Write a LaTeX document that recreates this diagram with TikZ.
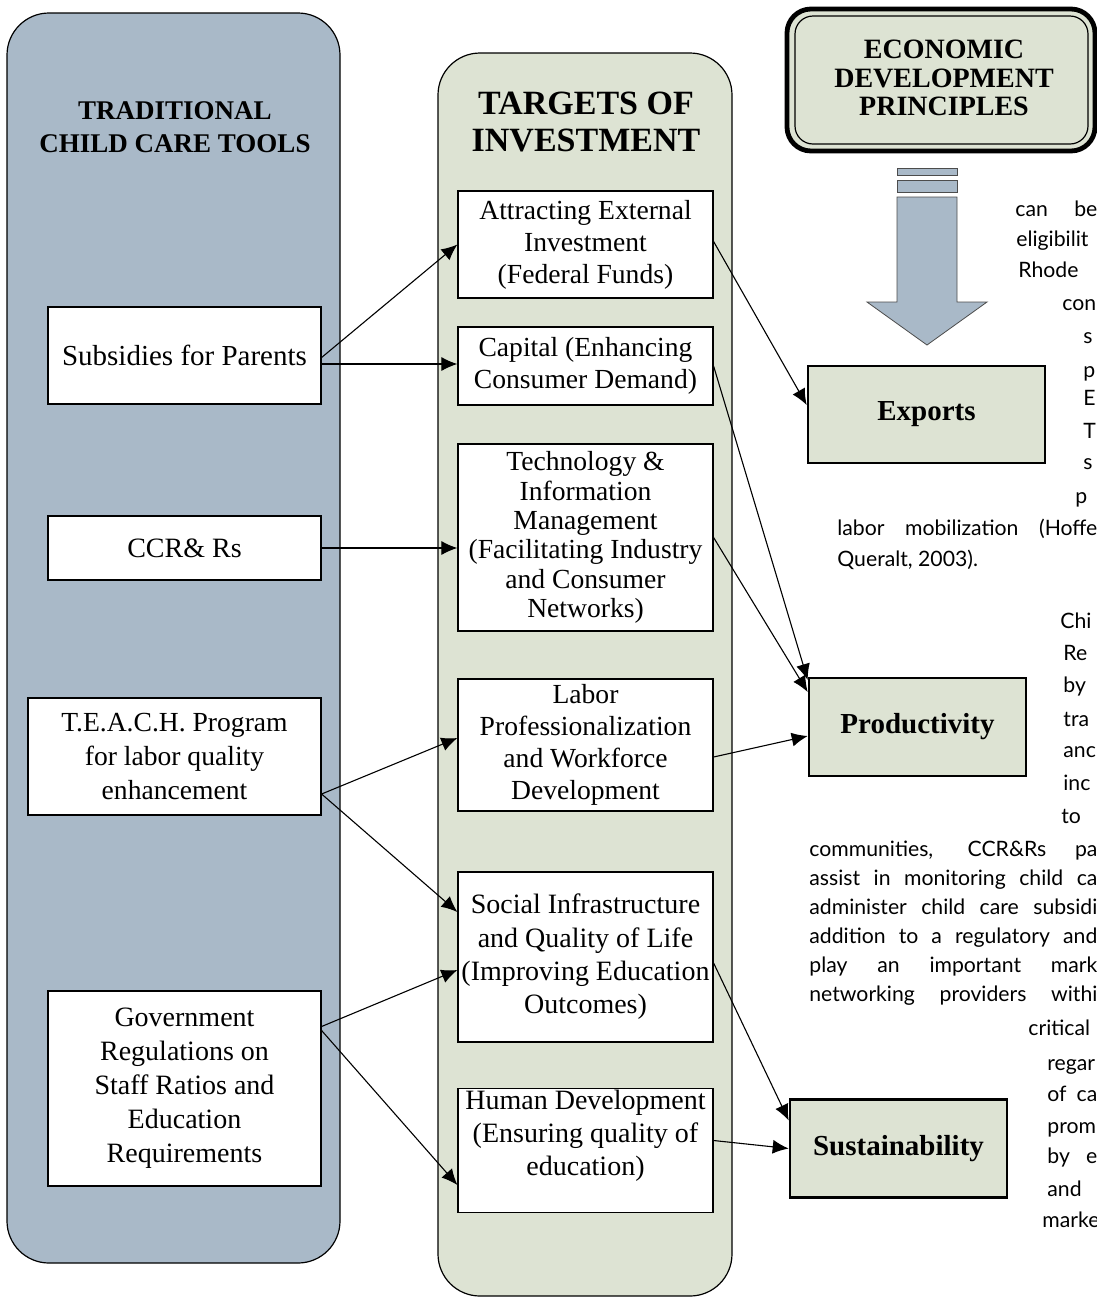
\documentclass[tikz,border=0pt]{standalone}
\usepackage{fontspec}
\setmainfont{Liberation Serif}
\setsansfont{Lato}
\usetikzlibrary{arrows.meta}
\definecolor{toolgrey}{RGB}{169,185,200}
\definecolor{sage}{RGB}{221,227,211}
\tikzset{
  panel/.style={draw=black, line width=0.6pt, rounded corners=21pt},
  tool/.style={draw=black, line width=0.6pt, fill=white, align=center, inner sep=1pt,
    font=\fontsize{14}{17}\selectfont},
  target/.style={tool, minimum width=127.5pt, font=\fontsize{13.8}{16}\selectfont},
  result/.style={draw=black, line width=1.3pt, fill=sage, minimum width=108.5pt, minimum height=49pt,
    font=\fontsize{14.5}{16}\selectfont\bfseries},
  heading/.style={align=center, font=\fontsize{13.5}{16.5}\selectfont\bfseries},
  link/.style={line width=0.55pt, -{Latex[length=8pt,width=7pt]}},
  page/.style={anchor=base west, inner sep=0pt, font=\sffamily\fontsize{10.6}{12}\selectfont}
}
\begin{document}
\begin{tikzpicture}[x=0.5pt, y=-0.5pt]
  \useasboundingbox (0,0) rectangle (1097,1298);
  % the two columns
  \draw [panel, fill=toolgrey] (7,13) rectangle (340,1263);
  \draw [panel, fill=sage] (438,53) rectangle (732,1296);
  \node [heading] (toolhead) at (175,127) {TRADITIONAL\\CHILD CARE TOOLS};
  \node [heading, font=\fontsize{17}{18.5}\selectfont\bfseries] (targethead) at (586,122) {TARGETS OF\\INVESTMENT};

  % principles box and block arrow
  \draw [line width=2.4pt, rounded corners=12pt, fill=sage] (787,9) rectangle (1095,151);
  \draw [line width=0.6pt, rounded corners=9pt] (795,16) rectangle (1088,144);
  \node [heading, font=\fontsize{14}{14.3}\selectfont\bfseries] (principles) at (944,78) {ECONOMIC\\DEVELOPMENT\\PRINCIPLES};
  \draw [fill=toolgrey, draw=black!70, line width=0.4pt] (897,168) rectangle (957,175);
  \draw [fill=toolgrey, draw=black!70, line width=0.4pt] (897,180) rectangle (957,192);
  \draw [fill=toolgrey, draw=black!70, line width=0.4pt]
    (897,197) -- (957,197) -- (957,302) -- (987,302) -- (927,345) -- (867,302) -- (897,302) -- cycle;

  % tools
  \node [tool, minimum width=136.5pt, minimum height=48.5pt, font=\fontsize{14.5}{17}\selectfont] (subsidy) at (184.5,355.5) {Subsidies for Parents};
  \node [tool, minimum width=136.5pt, minimum height=32pt] (ccrr) at (184.5,548) {CCR\& Rs};
  \node [tool, minimum width=146.5pt, minimum height=58.5pt, font=\fontsize{13.8}{17.2}\selectfont] (teach) at (174.5,756.5) {T.E.A.C.H. Program\\for labor quality\\enhancement};
  \node [tool, minimum width=136.5pt, minimum height=97.5pt] (govt) at (184.5,1088.5) {Government\\Regulations on\\Staff Ratios and\\Education\\Requirements};

  % targets
  \node [target, minimum height=53.5pt] (attract) at (585.5,244.5) {Attracting External\\Investment\\(Federal Funds)};
  \node [target, minimum height=39pt] (capital) at (585.5,366) {Capital (Enhancing\\Consumer Demand)};
  \node [target, minimum height=93.5pt, font=\fontsize{13.8}{14.7}\selectfont] (tech) at (585.5,537.5) {Technology \&\\Information\\Management\\(Facilitating Industry\\and Consumer\\Networks)};
  \node [target, minimum height=66pt] (labor) at (585.5,745) {Labor\\Professionalization\\and Workforce\\Development};
  \node [target, minimum height=85pt, font=\fontsize{14}{16.7}\selectfont] (social) at (585.5,957) {Social Infrastructure\\and Quality of Life\\(Improving Education\\Outcomes)};
  \node [target, minimum height=55.5pt, font=\fontsize{14}{16.5}\selectfont] (human) at (585.5,1150.5) {Human Development\\(Ensuring quality of\\education)\\[1pt]\mbox{}};

  % principles reached
  \node [result, minimum width=118.5pt, minimum height=48.5pt] (exports) at (926.5,414.5) {Exports};
  \node [result] (product) at (917.5,727) {Productivity};
  \node [result] (sustain) at (898.5,1148.5) {Sustainability};

  % tools to targets
  \draw [link] ([yshift=-1pt]subsidy.east) -- (attract.west);
  \draw [link] ([yshift=-4.25pt]subsidy.east) -- ([yshift=1pt]capital.west);
  \draw [link] (ccrr.east) -- ([yshift=-5.25pt]tech.west);
  \draw [link] ([yshift=-18.75pt]teach.east) -- ([yshift=3.5pt]labor.west);
  \draw [link] ([yshift=-18.75pt]teach.east) -- ([yshift=22.5pt]social.west);
  \draw [link] ([yshift=31pt]govt.east) -- ([yshift=-6.5pt]social.west);
  \draw [link] ([yshift=29pt]govt.east) -- ([yshift=-17.25pt]human.west);

  % targets to principles
  \draw [link] ([yshift=1.5pt]attract.east) -- ([yshift=4.75pt]exports.west);
  \draw [link] ([yshift=0pt]capital.east) -- ([yshift=23.5pt]product.west);
  \draw [link] (tech.east) -- ([yshift=17.5pt]product.west);
  \draw [link] ([yshift=-6pt]labor.east) -- ([yshift=-4.5pt]product.west);
  \draw [link] ([yshift=-3pt]social.east) -- ([yshift=14pt]sustain.west);
  \draw [link] ([yshift=5pt]human.east) -- (sustain.west);

  % surrounding page text
  \node [page] (t1) at (1015,216) {\makebox[41pt][s]{can be}};
  \node [page] (t2) at (1016,246) {eligibilit};
  \node [page] (t3) at (1018,277) {Rhode};
  \node [page] (t4) at (1062,310) {con};
  \node [page] (t5) at (1083,343) {s};
  \node [page] (t6) at (1083,377) {p};
  \node [page] (t7) at (1083,405) {E};
  \node [page] (t8) at (1083,438) {T};
  \node [page] (t9) at (1083,469) {s};
  \node [page] (t10) at (1075,503) {p};
  \node [page] (t11) at (837,535) {\makebox[130pt][s]{labor mobilization (Hoffe}};
  \node [page] (t12) at (837,566) {Queralt, 2003).};

  \node [page] (m1) at (1060,628) {Chi};
  \node [page] (m2) at (1063,660) {Re};
  \node [page] (m3) at (1063,692) {by};
  \node [page] (m4) at (1063,726) {tra};
  \node [page] (m5) at (1063,757) {anc};
  \node [page] (m6) at (1063,790) {inc};
  \node [page] (m7) at (1061,823) {to};
  \node [page] (m8) at (809,856) {\makebox[144pt][s]{communities, CCR\&Rs pa}};
  \node [page] (m9) at (809,885) {\makebox[144pt][s]{assist in monitoring child ca}};
  \node [page] (m10) at (809,914) {\makebox[144pt][s]{administer child care subsidi}};
  \node [page] (m11) at (809,943) {\makebox[144pt][s]{addition to a regulatory and}};
  \node [page] (m12) at (809,972) {\makebox[144pt][s]{play an important mark}};
  \node [page] (m13) at (809,1001) {\makebox[144pt][s]{networking providers withi}};
  \node [page] (m14) at (1028,1035) {critical};
  \node [page] (m15) at (1047,1070) {regar};
  \node [page] (m16) at (1047,1101) {\makebox[25pt][s]{of ca}};
  \node [page] (m17) at (1047,1133) {prom};
  \node [page] (m18) at (1047,1163) {\makebox[25pt][s]{by e}};
  \node [page] (m19) at (1047,1196) {and};
  \node [page] (m20) at (1042,1227) {marke};
\end{tikzpicture}
\end{document}
